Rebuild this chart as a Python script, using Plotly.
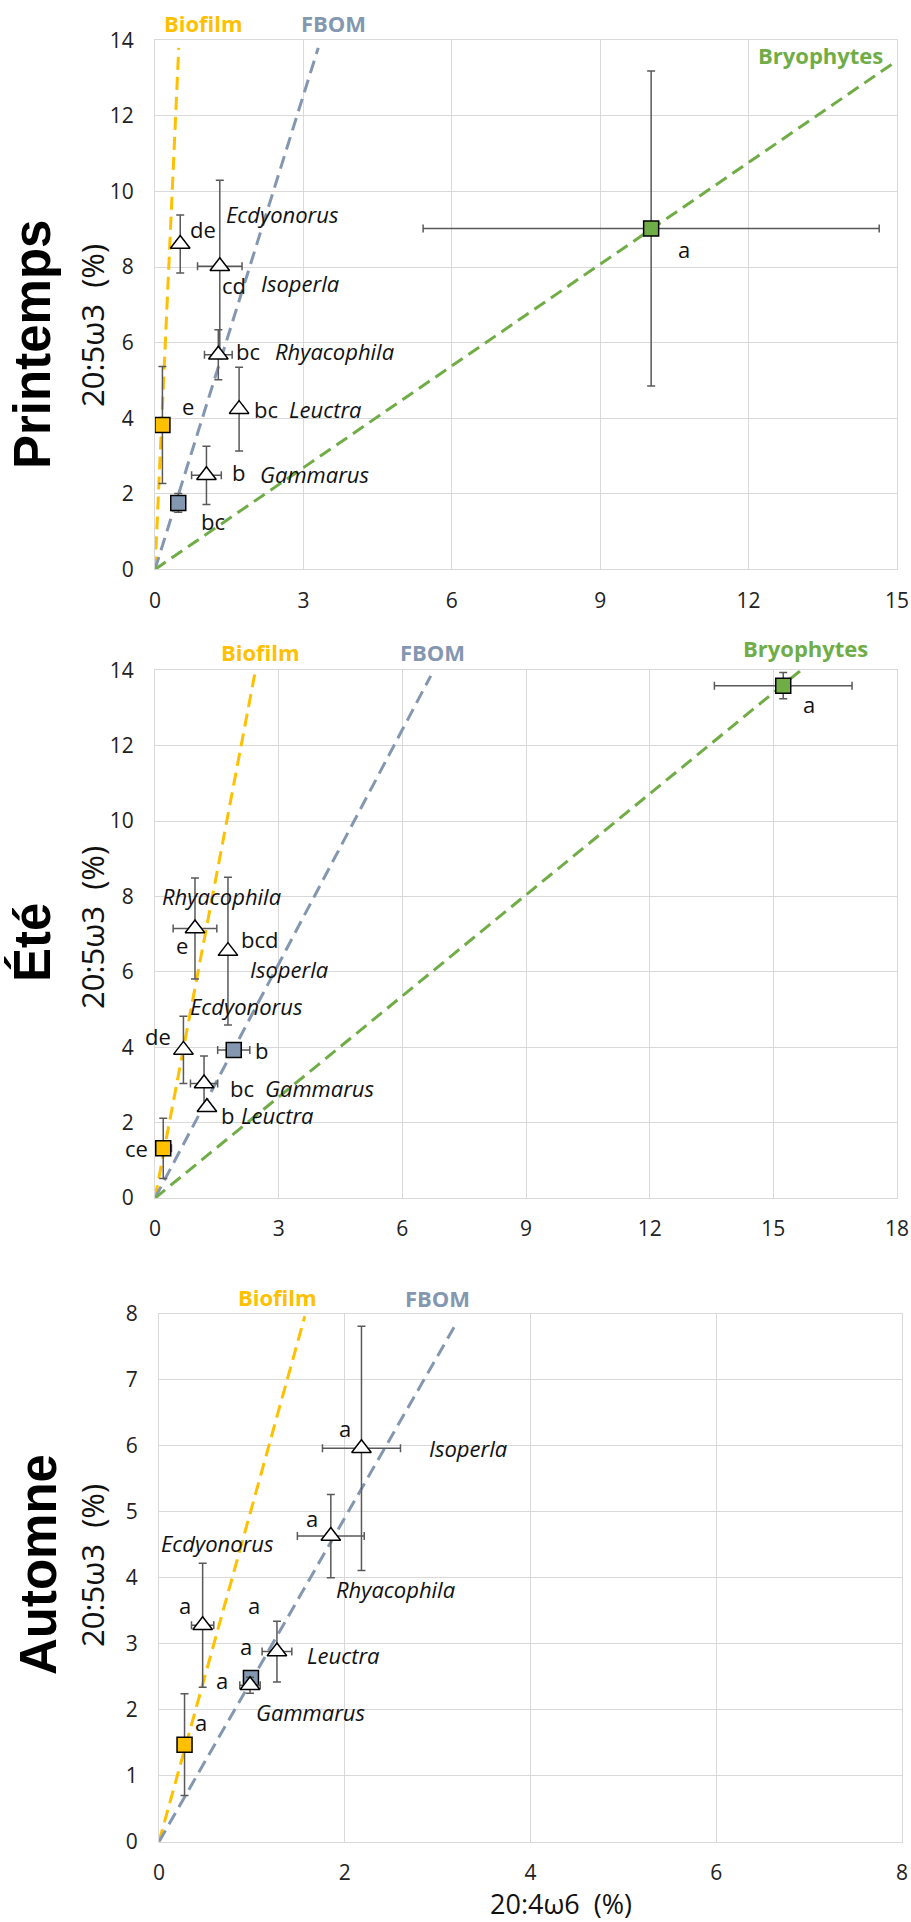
import plotly.graph_objects as go

# ---------------- data ----------------
sources = ["Biofilm", "FBOM", "Bryophytes"]
taxa = ["Ecdyonorus", "Isoperla", "Rhyacophila", "Leuctra", "Gammarus"]

# Printemps
spr_src_x = [0.15, 0.47, 10.03]
spr_src_y = [3.82, 1.76, 9.02]
spr_src_xerr = [0.05, 0.08, 4.61]
spr_src_yerr = [1.55, 0.25, 4.17]
spr_src_letters = ["e", "bc", "a"]
spr_tax_x = [0.51, 1.31, 1.28, 1.70, 1.04]
spr_tax_y = [8.61, 8.02, 5.68, 4.24, 2.49]
spr_tax_xerr = [0.08, 0.45, 0.28, 0.08, 0.30]
spr_tax_yerr = [0.77, 2.28, 0.66, 1.11, 0.77]
spr_tax_letters = ["de", "cd", "bc", "bc", "b"]
spr_line_x = [0.48, 3.30, 15.0]
spr_line_y = [13.8, 13.8, 13.46]

# Été
ete_src_x = [0.20, 1.91, 15.24]
ete_src_y = [1.32, 3.93, 13.59]
ete_src_xerr = [0.20, 0.39, 1.67]
ete_src_yerr = [0.80, 0.10, 0.35]
ete_src_letters = ["ce", "b", "a"]
ete_tax_x = [0.69, 1.77, 0.97, 1.26, 1.19]
ete_tax_y = [3.93, 6.55, 7.15, 2.41, 3.04]
ete_tax_xerr = [0.05, 0.05, 0.53, 0.05, 0.33]
ete_tax_yerr = [0.89, 1.96, 1.34, 0.0, 0.73]
ete_tax_letters = ["de", "bcd", "e", "b", "bc"]
ete_line_x = [2.42, 6.69, 15.67]
ete_line_y = [13.9, 13.85, 14.0]

# Automne
aut_src_x = [0.275, 0.99]
aut_src_y = [1.47, 2.48]
aut_src_xerr = [0.05, 0.05]
aut_src_yerr = [0.77, 0.10]
aut_src_letters = ["a", "a"]
aut_tax_x = [0.47, 2.18, 1.85, 1.27, 0.98]
aut_tax_y = [3.28, 5.96, 4.63, 2.88, 2.37]
aut_tax_xerr = [0.12, 0.42, 0.36, 0.16, 0.11]
aut_tax_yerr = [0.94, 1.85, 0.63, 0.46, 0.12]
aut_tax_letters = ["a", "a", "a", "a", "a"]
aut_line_x = [1.57, 3.18]
aut_line_y = [7.96, 7.80]

x_title = "20:4ω6  (%)"
y_title = "20:5ω3  (%)"

# ---------------- styles / layout ----------------
W, H = 911, 1922
src_colors = ["#FFC000", "#8497B0", "#70AD47"]
FONT = "Open Sans"

panels = [
    dict(name="Printemps", src=(spr_src_x, spr_src_y, spr_src_xerr, spr_src_yerr, spr_src_letters),
         tax=(spr_tax_x, spr_tax_y, spr_tax_xerr, spr_tax_yerr, spr_tax_letters),
         lines=(spr_line_x, spr_line_y),
         box=(155, 897, 40.3, 569.4), xr=[0, 15], yr=[0, 14], dx=3, dy=2,
         title_pos=(33, 345), ytitle_pos=(92, 326),
         src_lab_pos=[(203, 23), (333, 23), (820, 55)],
         src_let_off=[(18, 19, "left"), (21, -18, "left"), (25, -20, "left")],
         tax_let_off=[(23, 15, "center"), (14, -19, "center"), (30, 4, "center"), (27, 0, "center"), (32, 3, "center")],
         tax_name_off=[(44, 30, "left"), (39, -17, "left"), (55, 4, "left"), (48, 0, "left"), (52, 1, "left")]),
    dict(name="Été", src=(ete_src_x, ete_src_y, ete_src_xerr, ete_src_yerr, ete_src_letters),
         tax=(ete_tax_x, ete_tax_y, ete_tax_xerr, ete_tax_yerr, ete_tax_letters),
         lines=(ete_line_x, ete_line_y),
         box=(155, 897, 670.2, 1198.1), xr=[0, 18], yr=[0, 14], dx=3, dy=2,
         title_pos=(33, 943), ytitle_pos=(92, 928),
         src_lab_pos=[(260, 652), (432, 652), (805, 648)],
         src_let_off=[(-13, 0, "right"), (28, 0, "center"), (26, -18, "center")],
         tax_let_off=[(-25, 14, "center"), (11, 12, "left"), (-13, -17, "center"), (12, -8, "left"), (24, -5, "left")],
         tax_name_off=[(5, 44, "left"), (20, -18, "left"), (-35, 32, "left"), (32, -8, "left"), (59, -5, "left")]),
    dict(name="Automne", src=(aut_src_x, aut_src_y, aut_src_xerr, aut_src_yerr, aut_src_letters),
         tax=(aut_tax_x, aut_tax_y, aut_tax_xerr, aut_tax_yerr, aut_tax_letters),
         lines=(aut_line_x, aut_line_y),
         box=(159, 902, 1313.6, 1841.7), xr=[0, 8], yr=[0, 8], dx=2, dy=1,
         title_pos=(38, 1565), ytitle_pos=(92, 1566),
         src_lab_pos=[(277, 1297), (437, 1298)],
         src_let_off=[(16, 23, "center"), (-5, 32, "center")],
         tax_let_off=[(-18, 20, "center"), (-16, 20, "center"), (-19, 18, "center"), (-23, 47, "center"), (-28, 5, "center")],
         tax_name_off=[(15, 82, "center"), (66, 0, "left"), (3, -53, "left"), (28, -3, "left"), (4, -27, "left")]),
]

fig = go.Figure()
annotations = []
layout_axes = {}

for i, p in enumerate(panels, start=1):
    xa = "x" if i == 1 else f"x{i}"
    ya = "y" if i == 1 else f"y{i}"
    l, r, t, b = p["box"]
    axis_common = dict(showgrid=True, gridcolor="#D9D9D9", gridwidth=1.2, zeroline=False,
                       showline=True, linecolor="#D9D9D9", linewidth=1.2, mirror=True,
                       automargin=False,
                       ticks="", tickfont=dict(family=FONT, size=21, color="#222222"))
    layout_axes["xaxis" if i == 1 else f"xaxis{i}"] = dict(
        axis_common, domain=[l / W, r / W], range=p["xr"], dtick=p["dx"], tick0=0,
        anchor=ya, ticklabelstandoff=12)
    layout_axes["yaxis" if i == 1 else f"yaxis{i}"] = dict(
        axis_common, domain=[1 - b / H, 1 - t / H], range=p["yr"], dtick=p["dy"], tick0=0,
        anchor=xa, ticklabelstandoff=16)

    # reference lines from origin
    lx, ly = p["lines"]
    for k in range(len(lx)):
        fig.add_trace(go.Scatter(x=[0, lx[k]], y=[0, ly[k]], mode="lines", xaxis=xa, yaxis=ya,
                                 line=dict(color=src_colors[k], width=3, dash="13px,7px"),
                                 hoverinfo="skip", showlegend=False))

    sx, sy, sxe, sye, slet = p["src"]
    fig.add_trace(go.Scatter(
        x=sx, y=sy, mode="markers", xaxis=xa, yaxis=ya, showlegend=False,
        marker=dict(symbol="square", size=15, color=src_colors[:len(sx)],
                    line=dict(color="#000000", width=1.5)),
        error_x=dict(type="data", array=sxe, color="#595959", thickness=1.5, width=4),
        error_y=dict(type="data", array=sye, color="#595959", thickness=1.5, width=4)))

    tx, ty, txe, tye, tlet = p["tax"]
    fig.add_trace(go.Scatter(
        x=tx, y=ty, mode="markers", xaxis=xa, yaxis=ya, showlegend=False,
        marker=dict(symbol="triangle-up", size=17, color="#FFFFFF",
                    line=dict(color="#000000", width=1.5)),
        error_x=dict(type="data", array=txe, color="#595959", thickness=1.5, width=4),
        error_y=dict(type="data", array=tye, color="#595959", thickness=1.5, width=4)))

    lab_font = dict(family=FONT, size=22, color="#111111")
    for k in range(len(sx)):
        ox, oy, anc = p["src_let_off"][k]
        annotations.append(dict(x=sx[k], y=sy[k], xref=xa, yref=ya, text=slet[k], showarrow=False,
                                xshift=ox, yshift=oy, xanchor=anc, yanchor="middle", font=lab_font))
    for k in range(len(tx)):
        ox, oy, anc = p["tax_let_off"][k]
        annotations.append(dict(x=tx[k], y=ty[k], xref=xa, yref=ya, text=tlet[k], showarrow=False,
                                xshift=ox, yshift=oy, xanchor=anc, yanchor="middle", font=lab_font))
        ox, oy, anc = p["tax_name_off"][k]
        annotations.append(dict(x=tx[k], y=ty[k], xref=xa, yref=ya, text=f"<i>{taxa[k]}</i>",
                                showarrow=False, xshift=ox, yshift=oy, xanchor=anc, yanchor="middle",
                                font=lab_font))

    # source labels
    for k, (px, py) in enumerate(p["src_lab_pos"]):
        annotations.append(dict(x=px / W, y=1 - py / H, xref="paper", yref="paper", text=f"<b>{sources[k]}</b>",
                                showarrow=False, xanchor="center", yanchor="middle",
                                font=dict(family=FONT, size=22, color=src_colors[k])))

    # season title & y title
    px, py = p["title_pos"]
    annotations.append(dict(x=px / W, y=1 - py / H, xref="paper", yref="paper", text=f"<b>{p['name']}</b>",
                            showarrow=False, textangle=-90, xanchor="center", yanchor="middle",
                            font=dict(family="Liberation Sans", size=51, color="#000000")))
    px, py = p["ytitle_pos"]
    annotations.append(dict(x=px / W, y=1 - py / H, xref="paper", yref="paper", text=y_title,
                            showarrow=False, textangle=-90, xanchor="center", yanchor="middle",
                            font=dict(family=FONT, size=31, color="#111111")))

annotations.append(dict(x=561 / W, y=1 - 1903 / H, xref="paper", yref="paper", text=x_title,
                        showarrow=False, xanchor="center", yanchor="middle",
                        font=dict(family=FONT, size=27, color="#111111")))

fig.update_layout(width=W, height=H, margin=dict(l=0, r=0, t=0, b=0),
                  paper_bgcolor="#FFFFFF", plot_bgcolor="#FFFFFF",
                  annotations=annotations, showlegend=False, **layout_axes)

fig.write_html("out.html", config={"displayModeBar": False},
               post_script="document.body.style.margin='0';document.body.style.overflow='hidden';")
